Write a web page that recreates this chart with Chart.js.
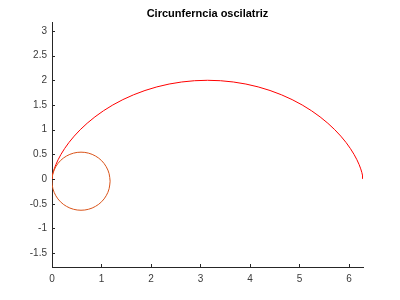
<!DOCTYPE html>
<html>
<head>
<meta charset="utf-8">
<script src="https://cdn.jsdelivr.net/npm/chart.js@4/dist/chart.umd.min.js"></script>
<style>
html,body{margin:0;padding:0;background:#fff;}
#wrap{width:400px;height:300px;}
</style>
</head>
<body>
<div id="wrap"><canvas id="c" width="400" height="300"></canvas></div>
<script>
const title = "Circunferncia oscilatriz";
const xTicks = [0, 1, 2, 3, 4, 5, 6];
const yTicks = [-1.5, -1, -0.5, 0, 0.5, 1, 1.5, 2, 2.5, 3];
const xRange = [0, 6.2832];
const yRange = [-1.78, 3.18];

const curveX = [0, 0.0004, 0.0030, 0.0100, 0.0236, 0.0457, 0.0783, 0.1229, 0.1812, 0.2542, 0.3431, 0.4485,
  0.5708, 0.7103, 0.8667, 1.0396, 1.2284, 1.4319, 1.6491, 1.8783, 2.1180, 2.3662, 2.6210, 2.8802,
  3.1416, 3.4030, 3.6622, 3.9170, 4.1652, 4.4049, 4.6341, 4.8513, 5.0548, 5.2436, 5.4165, 5.5729,
  5.7124, 5.8347, 5.9401, 6.0290, 6.1020, 6.1603, 6.2049, 6.2375, 6.2596, 6.2732, 6.2802, 6.2828, 6.2832];
const curveY = [0, 0.0086, 0.0341, 0.0761, 0.1340, 0.2066, 0.2929, 0.3912, 0.5, 0.6173, 0.7412, 0.8695,
  1, 1.1305, 1.2588, 1.3827, 1.5, 1.6088, 1.7071, 1.7934, 1.8660, 1.9239, 1.9659, 1.9914,
  2, 1.9914, 1.9659, 1.9239, 1.8660, 1.7934, 1.7071, 1.6088, 1.5, 1.3827, 1.2588, 1.1305,
  1, 0.8695, 0.7412, 0.6173, 0.5, 0.3912, 0.2929, 0.2066, 0.1340, 0.0761, 0.0341, 0.0086, 0];

const circleX = [1.174, 1.154, 1.095, 1.002, 0.880, 0.738, 0.586, 0.434, 0.292, 0.170, 0.077, 0.018,
  -0.002, 0.018, 0.077, 0.170, 0.292, 0.434, 0.586, 0.738, 0.880, 1.002, 1.095, 1.154, 1.174];
const circleY = [-0.043, 0.109, 0.251, 0.373, 0.466, 0.525, 0.545, 0.525, 0.466, 0.373, 0.251, 0.109,
  -0.043, -0.195, -0.337, -0.459, -0.552, -0.611, -0.631, -0.611, -0.552, -0.459, -0.337, -0.195, -0.043];

const axisColor = '#262626';
const labelColor = '#3a3a3a';
const FONT = '"Liberation Sans", Arial, Helvetica, sans-serif';

const toPts = (xs, ys) => xs.map((x, i) => ({x: x, y: ys[i]}));

const innerTicks = {
  id: 'innerTicks',
  afterDraw(chart) {
    const ctx = chart.ctx;
    const xs = chart.scales.x, ys = chart.scales.y;
    const a = chart.chartArea;
    ctx.save();
    ctx.strokeStyle = axisColor;
    ctx.lineWidth = 1;
    ctx.beginPath();
    xTicks.forEach(v => {
      const p = Math.round(xs.getPixelForValue(v)) + 0.5;
      ctx.moveTo(p, a.bottom);
      ctx.lineTo(p, a.bottom - 3);
    });
    yTicks.forEach(v => {
      const p = Math.round(ys.getPixelForValue(v)) + 0.5;
      ctx.moveTo(a.left, p);
      ctx.lineTo(a.left + 3, p);
    });
    ctx.stroke();
    ctx.fillStyle = '#000';
    ctx.font = 'bold 11px ' + FONT;
    ctx.textAlign = 'center';
    ctx.textBaseline = 'middle';
    ctx.fillText(title, (a.left + a.right) / 2, 14);
    ctx.restore();
  }
};

new Chart(document.getElementById('c'), {
  type: 'scatter',
  data: {
    datasets: [
      {
        label: 'curva',
        data: toPts(curveX, curveY),
        showLine: true,
        borderColor: '#ff0000',
        borderWidth: 1,
        pointRadius: 0,
        tension: 0,
        fill: false,
        order: 1
      },
      {
        label: 'circunferencia',
        data: toPts(circleX, circleY),
        showLine: true,
        borderColor: '#D95319',
        borderWidth: 1,
        pointRadius: 0,
        tension: 0.35,
        fill: false,
        order: 0
      }
    ]
  },
  plugins: [innerTicks],
  options: {
    responsive: false,
    animation: false,
    layout: {padding: {top: 22, right: 37, bottom: 0, left: 0}},
    plugins: {legend: {display: false}, tooltip: {enabled: false}, title: {display: false}},
    scales: {
      x: {
        type: 'linear',
        min: xRange[0], max: xRange[1],
        afterBuildTicks: s => { s.ticks = xTicks.map(v => ({value: v})); },
        afterFit: s => { s.height = 33; },
        grid: {display: true, drawOnChartArea: false, drawTicks: false},
        border: {display: true, color: axisColor, width: 1},
        ticks: {color: labelColor, font: {family: FONT, size: 10}, padding: 6, maxRotation: 0,
          callback: v => String(v)}
      },
      y: {
        type: 'linear',
        min: yRange[0], max: yRange[1],
        afterBuildTicks: s => { s.ticks = yTicks.map(v => ({value: v})); },
        afterFit: s => { s.width = 52; },
        grid: {display: true, drawOnChartArea: false, drawTicks: false},
        border: {display: true, color: axisColor, width: 1},
        ticks: {color: labelColor, font: {family: FONT, size: 10}, padding: 5,
          callback: v => String(v)}
      }
    }
  }
});
</script>
</body>
</html>
